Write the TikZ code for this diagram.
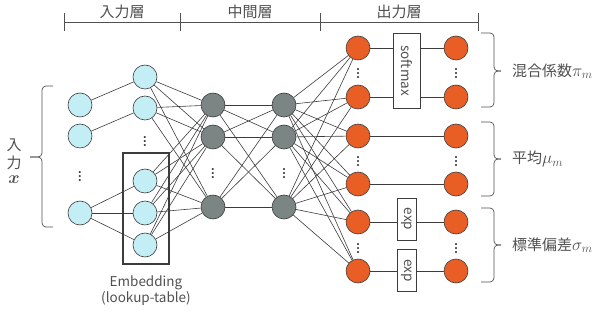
\documentclass[tikz,border=0pt]{standalone}
\usepackage{fontspec}
\usepackage{amsmath}
\usepackage{bm}
\usepackage{tikz}
\usetikzlibrary{positioning}
\setmainfont{Noto Sans CJK JP}
\definecolor{inblue}{RGB}{196,238,245}
\definecolor{hidgray}{RGB}{123,134,132}
\definecolor{outorange}{RGB}{232,94,37}
\definecolor{linegray}{RGB}{60,60,60}
\definecolor{txtgray}{RGB}{80,80,80}
\newcommand{\NodeSize}{24pt}
\newcommand{\LabelFont}{\fontsize{15}{17}\selectfont}
\newcommand{\BoxFont}{\fontsize{13.5}{16}\selectfont}
\newcommand{\BigMath}[1]{{\fontsize{18}{18}\selectfont$#1$}}
\tikzset{
  unit/.style={circle,draw=linegray,line width=0.6pt,minimum size=\NodeSize,inner sep=0pt},
  inunit/.style={unit,fill=inblue},
  hidunit/.style={unit,fill=hidgray},
  outunit/.style={unit,fill=outorange},
  link/.style={draw=linegray,line width=0.6pt},
  fnbox/.style={draw=linegray,line width=0.6pt,fill=white,inner sep=0pt,text=txtgray,font=\BoxFont},
  vdotsnode/.style={inner sep=0pt,text=linegray,font=\bfseries},
  bracket/.style={draw=txtgray,line width=0.7pt,rounded corners=4pt},
  lbl/.style={text=txtgray,font=\LabelFont,inner sep=0pt}
}

\begin{document}
\begin{tikzpicture}[x=1pt,y=-1pt]
\useasboundingbox (0,0) rectangle (596,320);

% layer bar on top
\draw[bracket,rounded corners=0pt] (64,22) -- (478,22);
\foreach \xt in {64,180,320,478}{
  \draw[bracket,rounded corners=0pt] (\xt,13) -- (\xt,31);
}
\node[lbl] (tin) at (122,12) {入力層};
\node[lbl] (tmid) at (250,12) {中間層};
\node[lbl] (tout) at (399,12) {出力層};

% input layer
\node[inunit] (a1) at (80,105) {};
\node[inunit] (a2) at (80,136) {};
\node[vdotsnode] (a0) at (80,174) {$\vdots$};
\node[inunit] (a3) at (80,213) {};

% embedding layer
\node[inunit] (b1) at (145,77) {};
\node[inunit] (b2) at (145,108) {};
\node[vdotsnode] (b0) at (145,139) {$\vdots$};
\node[inunit] (b3) at (145,181) {};
\node[inunit] (b4) at (145,213) {};
\node[inunit] (b5) at (145,245) {};
\node[draw=linegray,line width=1.3pt,minimum width=46pt,minimum height=111pt,inner sep=0pt] (emb) at (146,208.5) {};
\node[lbl,font=\BoxFont,align=center,below=11pt of emb] (embtxt) {Embedding\\(lookup-table)};

% hidden layers
\foreach \n/\yy in {1/105,2/137,3/207}{
  \node[hidunit] (c\n) at (213,\yy) {};
  \node[hidunit] (d\n) at (284,\yy) {};
}
\node[vdotsnode] (c0) at (213,171) {$\vdots$};
\node[vdotsnode] (d0) at (284,171) {$\vdots$};

% output layer
\foreach \n/\yy in {1/48,2/97,3/136,4/184,5/222,6/271}{
  \node[outunit] (e\n) at (358,\yy) {};
  \node[outunit] (f\n) at (456,\yy) {};
}
\foreach \yy/\k in {71/1,159/2,246/3}{
  \node[vdotsnode] (e0\k) at (358,\yy) {$\vdots$};
  \node[vdotsnode] (f0\k) at (456,\yy) {$\vdots$};
}

% connections
\draw[link] (a1) -- (b1);
\draw[link] (a2) -- (b2);
\foreach \j in {3,4,5}{\draw[link] (a3) -- (b\j);}
\foreach \i in {1,...,5}{
  \foreach \j in {1,2,3}{\draw[link] (b\i) -- (c\j);}
}
\foreach \i in {1,2,3}{
  \foreach \j in {1,2,3}{\draw[link] (c\i) -- (d\j);}
}
\foreach \i in {1,2,3}{
  \foreach \j in {1,...,6}{\draw[link] (d\i) -- (e\j);}
}
\foreach \j in {1,...,6}{\draw[link] (e\j) -- (f\j);}

% output functions
\node[fnbox,rotate=-90,minimum width=75pt,minimum height=27pt] (smax) at (406.5,70.5) {softmax};
\node[fnbox,rotate=-90,minimum width=42pt,minimum height=19pt] (exp1) at (406.5,219) {exp};
\node[fnbox,rotate=-90,minimum width=42pt,minimum height=19pt] (exp2) at (406.5,270.5) {exp};

% braces
\draw[bracket] (53,86) -- (42,86) -- (42,157) -- (30,157);
\draw[bracket] (30,157) -- (42,157) -- (42,227) -- (53,227);
\node[lbl] (xin1) at (14,145) {入};
\node[lbl] (xin2) at (14,163) {力};
\node[lbl] (xin3) at (14,180) {\BigMath{\bm{x}}};

\draw[bracket] (481,33) -- (494,33) -- (494,71) -- (501,71);
\draw[bracket] (501,71) -- (494,71) -- (494,107) -- (481,107);
\node[lbl,anchor=west] (pi) at (512,71) {混合係数\BigMath{\pi_m}};

\draw[bracket] (481,122) -- (494,122) -- (494,159) -- (501,159);
\draw[bracket] (501,159) -- (494,159) -- (494,196) -- (481,196);
\node[lbl,anchor=west] (mu) at (512,159) {平均\BigMath{\mu_m}};

\draw[bracket] (481,208) -- (494,208) -- (494,245) -- (501,245);
\draw[bracket] (501,245) -- (494,245) -- (494,282) -- (481,282);
\node[lbl,anchor=west] (sig) at (512,245) {標準偏差\BigMath{\sigma_m}};
\end{tikzpicture}
\end{document}
